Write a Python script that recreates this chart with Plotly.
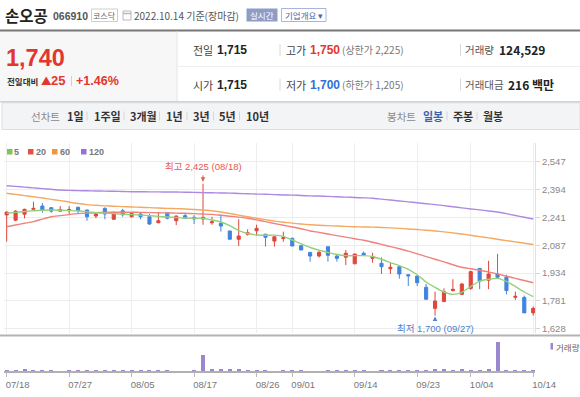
import plotly.graph_objects as go

# ---------------- data ----------------
DATES = ["07/18","07/19","07/20","07/21","07/22","07/25","07/26","07/27","07/28","07/29",
         "08/01","08/02","08/03","08/04","08/05","08/08","08/09","08/10","08/11","08/12",
         "08/16","08/17","08/18","08/19","08/22","08/23","08/24","08/25","08/26","08/29",
         "08/30","08/31","09/01","09/02","09/05","09/06","09/07","09/08","09/13","09/14",
         "09/15","09/16","09/19","09/20","09/21","09/22","09/23","09/26","09/27","09/28",
         "09/29","09/30","10/04","10/05","10/06","10/07","10/11","10/12","10/13","10/14"]
OPEN  = [2254,2225,2258,2285,2303,2294,2275,2280,2296,2281,2248,2290,2230,2277,2244,2259,2244,2211,2266,2222,
         2250,2241,2232,2211,2208,2166,2120,2148,2167,2148,2110,2124,2125,2085,2048,2028,2079,2028,2021,1985,
         2043,2015,1988,1958,1969,1925,1918,1856,1740,1777,1838,1817,1850,1960,1895,1929,1911,1801,1800,1715]
HIGH  = [2272,2280,2288,2327,2320,2296,2303,2303,2300,2283,2268,2296,2274,2288,2268,2270,2260,2266,2270,2250,
         2265,2253,2425,2244,2257,2166,2230,2175,2200,2148,2134,2162,2130,2085,2048,2055,2079,2040,2061,2039,
         2052,2046,2021,1991,1969,1925,1918,1874,1832,1850,1900,1880,1947,1960,2002,2040,1925,1832,1810,1750]
LOW   = [2107,2220,2235,2283,2266,2266,2275,2259,2259,2222,2236,2230,2228,2244,2240,2230,2200,2209,2230,2198,
         2233,2204,2200,2200,2162,2120,2083,2140,2140,2080,2080,2107,2083,2061,1997,2020,1997,1997,1978,1985,
         2028,1991,1929,1929,1903,1863,1863,1790,1700,1777,1832,1815,1841,1845,1845,1903,1817,1786,1715,1700]
CLOSE = [2270,2275,2285,2290,2280,2275,2283,2283,2278,2244,2259,2259,2263,2255,2263,2244,2204,2222,2236,2248,
         2236,2232,2241,2216,2193,2120,2138,2156,2180,2131,2134,2129,2083,2061,2028,2048,2032,2015,2043,2039,
         2034,2024,1969,1966,1929,1919,1881,1790,1780,1832,1845,1874,1942,1890,1929,1911,1838,1806,1715,1740]
VOLUME = [160000,140000,280000,150000,130000,120000,40000,110000,120000,100000,110000,100000,120000,110000,120000,
          100000,110000,100000,120000,50000,50000,110000,1980000,260000,320000,240000,230000,140000,130000,120000,
          50000,110000,100000,110000,60000,40000,130000,150000,210000,140000,130000,50000,110000,120000,110000,
          130000,140000,150000,220000,250000,160000,330000,170000,150000,230000,3600000,170000,180000,200000,124529]
MA5   = [2263,2268,2273,2277,2280,2281,2280,2278,2276,2272,2267,2264,2261,2258,2256,2253,2250,2246,2243,2240,
         2237,2236,2236,2226,2215,2195,2168,2152,2144,2142,2143,2136,2116,2095,2075,2060,2048,2036,2030,2030,
         2030,2025,2010,1992,1975,1955,1925,1885,1855,1830,1817,1828,1860,1890,1900,1905,1888,1860,1830,1804]
MA20  = [2189,2199,2208,2217,2231,2244,2250,2256,2261,2264,2266,2268,2269,2269,2269,2268,2267,2266,2265,2264,
         2263,2261,2259,2257,2252,2247,2242,2236,2227,2217,2207,2197,2188,2178,2166,2158,2149,2140,2132,2123,
         2115,2104,2092,2080,2068,2055,2040,2025,2010,1996,1980,1966,1958,1950,1940,1930,1917,1905,1893,1881]
MA60  = [2373,2367,2360,2354,2347,2340,2333,2325,2317,2311,2307,2304,2302,2300,2298,2296,2294,2292,2290,2289,
         2287,2284,2281,2277,2270,2262,2253,2244,2236,2228,2220,2214,2209,2204,2200,2197,2195,2193,2191,2189,
         2188,2187,2185,2183,2180,2177,2174,2170,2166,2161,2155,2149,2142,2135,2128,2120,2113,2106,2098,2091]
MA120 = [2415,2411,2407,2403,2399,2395,2391,2389,2388,2387,2386,2385,2384,2383,2382,2382,2381,2381,2380,2380,
         2379,2378,2377,2376,2375,2374,2372,2371,2369,2368,2366,2364,2363,2361,2359,2358,2356,2354,2352,2350,
         2348,2346,2341,2336,2331,2326,2321,2316,2311,2305,2299,2293,2287,2282,2276,2270,2261,2251,2241,2232]
Y_TICKS = [1628, 1781, 1934, 2087, 2241, 2394, 2547]
X_TICK_LABELS = ["07/18","07/27","08/05","08/17","08/26","09/01","09/14","09/23","10/04","10/14"]
MA_NAMES = ["5", "20", "60", "120"]

# ---------------- styles ----------------
W, H = 580, 397
RED = "#e0463c"
BLUE = "#4084e0"
MA_COLORS = ["#95d07c", "#ef827c", "#f3a962", "#ad8ae0"]
LEG_COLORS = ["#7cc45c", "#e2524c", "#f0963f", "#9b6fd8"]
VOL_COLOR = "#9a87d0"
FONT = "Liberation Sans, Noto Sans CJK KR, sans-serif"
KFONT = "Noto Sans CJK KR, Liberation Sans, sans-serif"


def px(x):
    return x / W


def py(y):
    return 1 - y / H


idx = list(range(len(DATES)))
tick_idx = [DATES.index(t) for t in X_TICK_LABELS]

fig = go.Figure()

# moving averages (120, 60, 20, 5 drawn back to front)
for vals, col in zip([MA120, MA60, MA20, MA5], MA_COLORS[::-1]):
    fig.add_trace(go.Scatter(x=idx, y=vals, mode="lines",
                             line=dict(color=col, width=1.4, shape="spline", smoothing=0.6),
                             hoverinfo="skip", showlegend=False, xaxis="x", yaxis="y"))

fig.add_trace(go.Candlestick(
    x=idx, open=OPEN, high=HIGH, low=LOW, close=CLOSE,
    increasing=dict(line=dict(color=RED, width=1), fillcolor=RED),
    decreasing=dict(line=dict(color=BLUE, width=1), fillcolor=BLUE),
    whiskerwidth=0, showlegend=False, hoverinfo="skip", xaxis="x", yaxis="y"))

fig.add_trace(go.Bar(x=idx, y=VOLUME, width=0.45, marker=dict(color=VOL_COLOR, line=dict(width=0)),
                     showlegend=False, hoverinfo="skip", xaxis="x2", yaxis="y2"))

xr = [-0.3, len(DATES) - 0.8]
main_top, main_bot = 143, 333
vol_top, vol_bot = 337, 371.3
upp = (max(Y_TICKS) - min(Y_TICKS)) / (328.7 - 161.7)
y_hi = max(Y_TICKS) + (161.7 - main_top) * upp
y_lo = min(Y_TICKS) - (main_bot - 328.7) * upp

fig.update_layout(
    width=W, height=H, autosize=False, margin=dict(l=0, r=0, t=0, b=0, pad=0, autoexpand=False),
    paper_bgcolor="white", plot_bgcolor="white", boxgap=0.5,
    font=dict(family=FONT, color="#333"), hovermode=False, bargap=0,
    xaxis=dict(domain=[px(4), px(535)], range=xr, anchor="y", tickvals=tick_idx, showticklabels=False,
               showgrid=True, gridcolor="#eeeeee", gridwidth=1, zeroline=False, ticks="", automargin=False,
               rangeslider=dict(visible=False), fixedrange=True),
    yaxis=dict(domain=[py(main_bot), py(main_top)], range=[y_lo, y_hi], side="right", anchor="x",
               tickvals=Y_TICKS, ticktext=[f"{v:,}" for v in Y_TICKS], showgrid=True, gridcolor="#ececec",
               zeroline=False, ticks="outside", ticklen=4, tickcolor="#d5d5d5", showline=True, automargin=False,
               linecolor="#e2e2e2", tickfont=dict(size=9.5, color="#888")),
    xaxis2=dict(domain=[px(4), px(535)], range=xr, anchor="y2", tickvals=tick_idx, ticktext=X_TICK_LABELS,
                ticklabelposition="outside", ticklabelshift=11, ticks="outside", ticklen=4, automargin=False,
                tickcolor="#bbbbbb", showline=True, linecolor="#b0b0b0", linewidth=1.5, showgrid=False,
                zeroline=False, tickfont=dict(size=9.5, color="#777")),
    yaxis2=dict(domain=[py(vol_bot), py(vol_top)], range=[0, max(VOLUME) * (vol_bot - vol_top) / 29.6],
                anchor="x2", showticklabels=False, showgrid=False, zeroline=False, automargin=False),
)

shapes = []
ann = []


def rect(x0, y0, x1, y1, fill=None, line=None, lw=1):
    shapes.append(dict(type="rect", xref="paper", yref="paper", x0=px(x0), x1=px(x1), y0=py(y1), y1=py(y0),
                       fillcolor=fill if fill else "rgba(0,0,0,0)",
                       line=dict(color=line if line else "rgba(0,0,0,0)", width=lw if line else 0), layer="below"))


def hline(x0, x1, y, color, w=1):
    shapes.append(dict(type="line", xref="paper", yref="paper", x0=px(x0), x1=px(x1), y0=py(y), y1=py(y),
                       line=dict(color=color, width=w)))


def vline(x, y0, y1, color, w=1):
    shapes.append(dict(type="line", xref="paper", yref="paper", x0=px(x), x1=px(x), y0=py(y0), y1=py(y1),
                       line=dict(color=color, width=w)))


def txt(x, y, s, size, color="#333", bold=False, anchor="left", family=KFONT):
    if bold:
        s = "<b>" + s + "</b>"
    ann.append(dict(xref="paper", yref="paper", x=px(x), y=py(y), text=s, showarrow=False, xanchor=anchor,
                    yanchor="middle", font=dict(size=size, color=color, family=family), borderpad=0))


# ---------- header ----------
txt(4, 15, "손오공", 15.5, "#222", True)
txt(52, 16, "066910", 10.5, "#555", True, family=FONT)
rect(91.5, 9, 117.5, 21.5, fill="white", line="#cfcfcf")
txt(104.5, 15.5, "코스닥", 8, "#666", anchor="center")
rect(123, 11, 131, 20, fill="white", line="#b8b8b8")
hline(123, 131, 13.5, "#b8b8b8", 1.5)
txt(133, 15.5, "2022.10.14 기준(장마감)", 10, "#555")
rect(246.5, 8.5, 277.5, 21.5, fill="#8e9cc6")
txt(262, 15, "실시간", 8.5, "white", anchor="center")
rect(281.5, 8.5, 326, 21.5, fill="white", line="#a9b6d8")
txt(303.5, 15, "기업개요 ▾", 8.5, "#4a66b0", anchor="center")

hline(0, W, 30.5, "#777777", 2)

# ---------- info panel ----------
rect(0, 31.5, 177, 101, fill="#f7f7f7")
vline(177, 31.5, 101, "#e4e4e4")
hline(177, W, 66.5, "#efefef")
txt(5, 58, "1,740", 23.5, "#e2372e", True, family=FONT)
txt(6, 81, "전일대비", 8.5, "#333", True)
txt(40, 81, "▲", 10.5, "#e2372e")
txt(50, 81, "25", 13, "#e2372e", True, family=FONT)
vline(71.5, 76, 86, "#d0d0d0")
txt(75, 81, "+1.46%", 12.5, "#e2372e", True, family=FONT)

rows = [
    (50, [("전일", "1,715", "#222", None), ("고가", "1,750", "#e2372e", "(상한가 2,225)"), ("거래량", "124,529", "#222", None)]),
    (84.5, [("시가", "1,715", "#222", None), ("저가", "1,700", "#2f6fd6", "(하한가 1,205)"), ("거래대금", "216 백만", "#222", None)]),
]
for yy, items in rows:
    (l1, v1, c1, _), (l2, v2, c2, s2), (l3, v3, c3, _) = items
    txt(192, yy, l1, 11, "#444")
    txt(216, yy, v1, 12, c1, True, family=FONT)
    vline(280, yy - 6, yy + 6, "#d8d8d8")
    txt(285, yy, l2, 11, "#444")
    txt(309, yy, v2, 12, c2, True, family=FONT)
    txt(341, yy, s2, 10, "#777")
    vline(460.5, yy - 6, yy + 6, "#d8d8d8")
    txt(464, yy, l3, 10.5, "#555")
    txt(498 if l3 == "거래량" else 507, yy, v3, 12, c3, True)

hline(0, W, 101.8, "#d2d2d2", 1.5)

# ---------- tab bar ----------
rect(2, 102.8, W, 129.5, fill="#f3f4f6", line="#dedede")
txt(30, 116, "선차트", 10.5, "#8a8a8a")
tabs = [("1일", 66), ("1주일", 93), ("3개월", 129), ("1년", 165), ("3년", 192), ("5년", 218), ("10년", 245)]
seps = [87, 124, 159.5, 187, 213.5, 239.5]
for t, x in tabs:
    txt(x, 116, t, 11, "#333", True)
for s in seps:
    vline(s, 111.5, 120.5, "#d6d6d6")
txt(386, 116, "봉차트", 10.5, "#8a8a8a")
txt(422, 116, "일봉", 11, "#3d62ae", True)
vline(447, 111.5, 120.5, "#d6d6d6")
txt(452, 116, "주봉", 11, "#333", True)
vline(477, 111.5, 120.5, "#d6d6d6")
txt(482, 116, "월봉", 11, "#333", True)

# ---------- MA legend ----------
leg_x = [(7, 14), (28, 36), (52, 60), (81, 89)]
for (sx, tx), name, col in zip(leg_x, MA_NAMES, LEG_COLORS):
    rect(sx, 149, sx + 5.5, 154.5, fill=col)
    txt(tx - 1, 152, name, 9, "#777", True, family=FONT)

# chart separator
hline(0, W, 335.5, "#b3b3b3", 2)

# volume legend
rect(550.5, 343, 553, 349.5, fill=VOL_COLOR)
txt(554.5, 346.5, "거래량", 8.5, "#666")

# ---------- high / low markers ----------
hi_i = HIGH.index(max(HIGH))
lo_i = LOW.index(min(LOW))
ann.append(dict(xref="x", yref="y", x=hi_i, y=max(HIGH), text=f"최고 {max(HIGH):,} ({DATES[hi_i]})",
                showarrow=False, yshift=17, xanchor="center", yanchor="middle",
                font=dict(size=9.5, color="#e8574d", family=FONT)))
ann.append(dict(xref="x", yref="y", x=hi_i, y=max(HIGH), text="", showarrow=True, ax=0, ay=-10,
                arrowhead=2, arrowsize=0.9, arrowwidth=1, arrowcolor="#e8574d", standoff=2))
ann.append(dict(xref="x", yref="y", x=lo_i, y=min(LOW), text=f"최저 {min(LOW):,} ({DATES[lo_i]})",
                showarrow=False, yshift=-12.5, xanchor="center", yanchor="middle",
                font=dict(size=9.5, color="#4b7fd2", family=FONT)))
ann.append(dict(xref="x", yref="y", x=lo_i, y=min(LOW), text="", showarrow=True, ax=0, ay=6,
                arrowhead=2, arrowsize=0.9, arrowwidth=1, arrowcolor="#4b7fd2", standoff=1))

fig.update_layout(shapes=shapes, annotations=ann)
fig.write_html("out.html", config={"displayModeBar": False, "staticPlot": True},
               post_script="document.body.style.margin='0px';document.body.style.overflow='hidden';")
